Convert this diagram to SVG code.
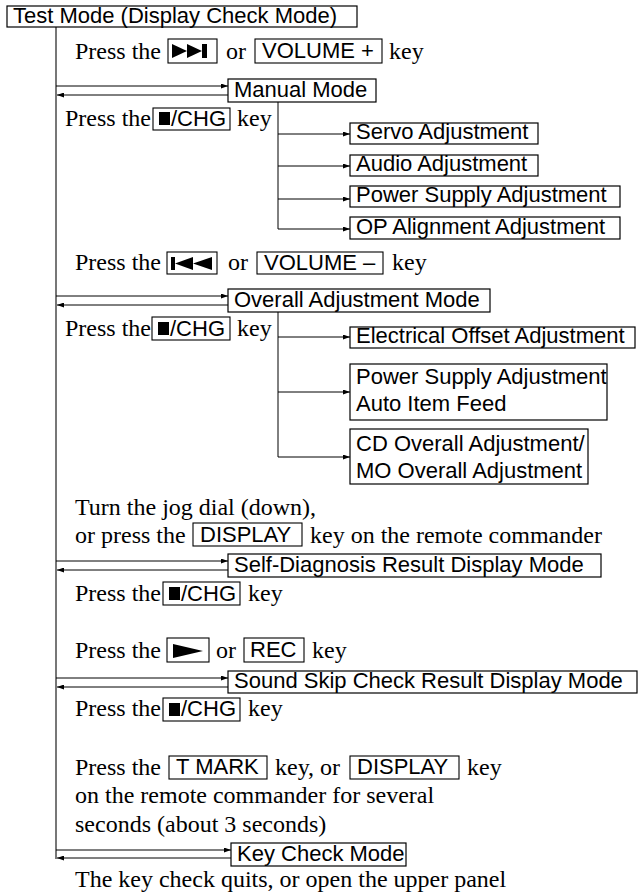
<svg xmlns="http://www.w3.org/2000/svg" width="639" height="894" viewBox="0 0 639 894">
<defs>
<style>
.box{fill:#fff;stroke:#000;stroke-width:1.2}
.key{fill:none;stroke:#000;stroke-width:1.1}
.sans{font-family:"Liberation Sans",Arial,sans-serif;font-size:22px;fill:#000}
.serif{font-family:"Liberation Serif","Times New Roman",serif;font-size:24px;fill:#000}
.conn{stroke:#000;stroke-width:1;fill:none}
.trunk{stroke:#555;stroke-width:1.6;fill:none}
.icon{fill:#000}
</style>
<marker id="ah" markerUnits="userSpaceOnUse" markerWidth="7" markerHeight="5" refX="7" refY="2.5" orient="auto">
<path d="M0,0 L7,2.5 L0,5 z" fill="#000"/>
</marker>
</defs>
<rect width="639" height="894" fill="#fff"/>

<g id="connectors">
<line class="trunk" x1="56" y1="27" x2="56" y2="859"/>
<line class="conn" x1="56" y1="86" x2="228" y2="86" marker-end="url(#ah)"/>
<line class="conn" x1="228" y1="95" x2="57" y2="95" marker-end="url(#ah)"/>
<line class="conn" x1="278" y1="102" x2="278" y2="229"/>
<line class="conn" x1="278" y1="134" x2="350" y2="134" marker-end="url(#ah)"/>
<line class="conn" x1="278" y1="166" x2="350" y2="166" marker-end="url(#ah)"/>
<line class="conn" x1="278" y1="199" x2="350" y2="199" marker-end="url(#ah)"/>
<line class="conn" x1="278" y1="229" x2="350" y2="229" marker-end="url(#ah)"/>
<line class="conn" x1="56" y1="296" x2="228" y2="296" marker-end="url(#ah)"/>
<line class="conn" x1="228" y1="305" x2="57" y2="305" marker-end="url(#ah)"/>
<line class="conn" x1="278" y1="312" x2="278" y2="457"/>
<line class="conn" x1="278" y1="337" x2="350" y2="337" marker-end="url(#ah)"/>
<line class="conn" x1="278" y1="392" x2="350" y2="392" marker-end="url(#ah)"/>
<line class="conn" x1="278" y1="457" x2="350" y2="457" marker-end="url(#ah)"/>
<line class="conn" x1="56" y1="561" x2="228" y2="561" marker-end="url(#ah)"/>
<line class="conn" x1="228" y1="570" x2="57" y2="570" marker-end="url(#ah)"/>
<line class="conn" x1="56" y1="678" x2="228" y2="678" marker-end="url(#ah)"/>
<line class="conn" x1="228" y1="687" x2="57" y2="687" marker-end="url(#ah)"/>
<line class="conn" x1="56" y1="850" x2="231" y2="850" marker-end="url(#ah)"/>
<line class="conn" x1="231" y1="858" x2="57" y2="858" marker-end="url(#ah)"/>
</g>

<g id="test-mode">
<rect class="box" x="7" y="6" width="350" height="21"/>
<text class="sans" x="13" y="23">Test Mode (Display Check Mode)</text>
</g>

<g id="instr-1">
<text class="serif" x="75" y="59">Press the</text>
<rect class="key" x="168" y="39" width="49" height="24"/>
<polygon class="icon" points="172,44 187,51 172,58"/>
<polygon class="icon" points="187,44 202,51 187,58"/>
<rect class="icon" x="202" y="44" width="5" height="14"/>
<text class="serif" x="226" y="59">or</text>
<rect class="key" x="255" y="39" width="127" height="24"/>
<text class="sans" x="262" y="58">VOLUME +</text>
<text class="serif" x="389" y="59">key</text>
</g>

<g id="manual-mode">
<rect class="box" x="228" y="79" width="148" height="23"/>
<text class="sans" x="234" y="97">Manual Mode</text>
</g>

<g id="instr-2">
<text class="serif" x="65" y="126">Press the</text>
<rect class="key" x="153" y="108" width="77" height="22"/>
<rect class="icon" x="159" y="112" width="11" height="13"/>
<text class="sans" x="171" y="126">/CHG</text>
<text class="serif" x="237" y="126">key</text>
</g>

<g id="servo">
<rect class="box" x="350" y="123" width="188" height="21"/>
<text class="sans" x="356" y="139">Servo Adjustment</text>
</g>
<g id="audio">
<rect class="box" x="350" y="155" width="188" height="21"/>
<text class="sans" x="356" y="171">Audio Adjustment</text>
</g>
<g id="power-supply">
<rect class="box" x="350" y="186" width="270" height="21"/>
<text class="sans" x="356" y="202">Power Supply Adjustment</text>
</g>
<g id="op-alignment">
<rect class="box" x="350" y="217" width="270" height="22"/>
<text class="sans" x="356" y="234">OP Alignment Adjustment</text>
</g>

<g id="instr-3">
<text class="serif" x="75" y="270">Press the</text>
<rect class="key" x="167" y="252" width="50" height="22"/>
<rect class="icon" x="171" y="257" width="4" height="13"/>
<polygon class="icon" points="175,263.5 193,257 193,270"/>
<polygon class="icon" points="193,263.5 212,257 212,270"/>
<text class="serif" x="228" y="270">or</text>
<rect class="key" x="257" y="252" width="126" height="22"/>
<text class="sans" x="264" y="270">VOLUME –</text>
<text class="serif" x="392" y="270">key</text>
</g>

<g id="overall-mode">
<rect class="box" x="228" y="289" width="262" height="23"/>
<text class="sans" x="234" y="307">Overall Adjustment Mode</text>
</g>

<g id="instr-4">
<text class="serif" x="65" y="336">Press the</text>
<rect class="key" x="152" y="317" width="78" height="23"/>
<rect class="icon" x="158" y="322" width="11" height="13"/>
<text class="sans" x="170" y="336">/CHG</text>
<text class="serif" x="237" y="336">key</text>
</g>

<g id="electrical-offset">
<rect class="box" x="350" y="327" width="285" height="21"/>
<text class="sans" x="356" y="343">Electrical Offset Adjustment</text>
</g>
<g id="power-supply-auto">
<rect class="box" x="350" y="364" width="257" height="56"/>
<text class="sans" x="356" y="384">Power Supply Adjustment</text>
<text class="sans" x="356" y="411">Auto Item Feed</text>
</g>
<g id="cd-mo-overall">
<rect class="box" x="350" y="429" width="238" height="55"/>
<text class="sans" x="356" y="451">CD Overall Adjustment/</text>
<text class="sans" x="356" y="478">MO Overall Adjustment</text>
</g>

<g id="instr-5">
<text class="serif" x="75" y="515">Turn the jog dial (down),</text>
<text class="serif" x="75" y="543">or press the</text>
<rect class="key" x="193" y="523" width="109" height="23"/>
<text class="sans" x="200" y="542">DISPLAY</text>
<text class="serif" x="310" y="543">key on the remote commander</text>
</g>

<g id="self-diagnosis">
<rect class="box" x="228" y="554" width="373" height="23"/>
<text class="sans" x="234" y="572">Self-Diagnosis Result Display Mode</text>
</g>

<g id="instr-6">
<text class="serif" x="75" y="601">Press the</text>
<rect class="key" x="163" y="582" width="77" height="23"/>
<rect class="icon" x="169" y="587" width="11" height="13"/>
<text class="sans" x="181" y="601">/CHG</text>
<text class="serif" x="248" y="601">key</text>
</g>

<g id="instr-7">
<text class="serif" x="75" y="658">Press the</text>
<rect class="key" x="167" y="638" width="42" height="24"/>
<polygon class="icon" points="173,644 203,651 173,658"/>
<text class="serif" x="216" y="658">or</text>
<rect class="key" x="244" y="638" width="60" height="24"/>
<text class="sans" x="250" y="657">REC</text>
<text class="serif" x="312" y="658">key</text>
</g>

<g id="sound-skip">
<rect class="box" x="228" y="671" width="409" height="22"/>
<text class="sans" x="234" y="688">Sound Skip Check Result Display Mode</text>
</g>

<g id="instr-8">
<text class="serif" x="75" y="716">Press the</text>
<rect class="key" x="163" y="698" width="77" height="23"/>
<rect class="icon" x="169" y="703" width="11" height="13"/>
<text class="sans" x="181" y="716">/CHG</text>
<text class="serif" x="248" y="716">key</text>
</g>

<g id="instr-9">
<text class="serif" x="75" y="775">Press the</text>
<rect class="key" x="169" y="756" width="98" height="23"/>
<text class="sans" x="176" y="774">T MARK</text>
<text class="serif" x="275" y="775">key, or</text>
<rect class="key" x="350" y="756" width="109" height="23"/>
<text class="sans" x="357" y="774">DISPLAY</text>
<text class="serif" x="467" y="775">key</text>
<text class="serif" x="75" y="803">on the remote commander for several</text>
<text class="serif" x="75" y="832">seconds (about 3 seconds)</text>
</g>

<g id="key-check">
<rect class="box" x="231" y="843" width="175" height="23"/>
<text class="sans" x="237" y="861">Key Check Mode</text>
</g>

<g id="instr-10">
<text class="serif" x="75" y="887">The key check quits, or open the upper panel</text>
</g>
</svg>
